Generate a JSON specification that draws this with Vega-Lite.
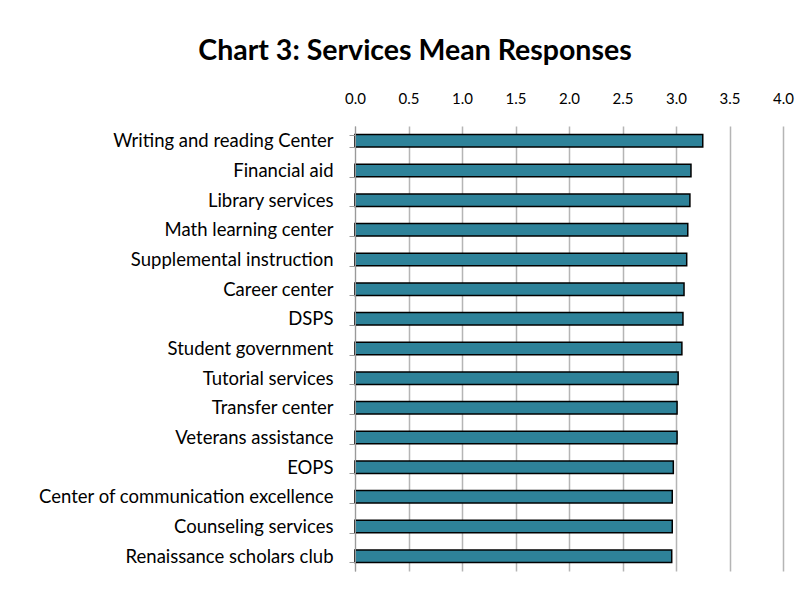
{
  "$schema": "https://vega.github.io/schema/vega-lite/v6.json",
  "width": 428,
  "height": 445,
  "autosize": {"type": "none"},
  "padding": {"left": 355, "top": 126, "right": 26, "bottom": 18},
  "background": "white",
  "title": {
    "text": "Chart 3: Services Mean Responses",
    "font": "Lato",
    "fontSize": 28.5,
    "fontWeight": "bold",
    "color": "black",
    "anchor": "middle",
    "frame": "group",
    "dx": -154,
    "offset": 26
  },
  "data": {
    "values": [
      {"service": "Writing and reading Center", "mean": 3.25},
      {"service": "Financial aid", "mean": 3.14},
      {"service": "Library services", "mean": 3.13},
      {"service": "Math learning center", "mean": 3.11},
      {"service": "Supplemental instruction", "mean": 3.10},
      {"service": "Career center", "mean": 3.075},
      {"service": "DSPS", "mean": 3.065},
      {"service": "Student government", "mean": 3.055},
      {"service": "Tutorial services", "mean": 3.02},
      {"service": "Transfer center", "mean": 3.01},
      {"service": "Veterans assistance", "mean": 3.01},
      {"service": "EOPS", "mean": 2.975},
      {"service": "Center of communication excellence", "mean": 2.965},
      {"service": "Counseling services", "mean": 2.965},
      {"service": "Renaissance scholars club", "mean": 2.96}
    ]
  },
  "mark": {"type": "bar", "color": "#2E8299", "stroke": "black", "strokeWidth": 1.5},
  "encoding": {
    "y": {
      "field": "service",
      "type": "nominal",
      "sort": null,
      "title": null,
      "scale": {"paddingInner": 0.58, "paddingOuter": 0.29},
      "axis": {
        "orient": "left",
        "labelFont": "Lato",
        "labelFontSize": 18.5,
        "labelColor": "black",
        "labelPadding": 16,
        "labelLimit": 400,
        "domainColor": "#9a9a9a",
        "tickColor": "#9a9a9a",
        "tickSize": 6,
        "tickBand": "extent",
        "grid": false,
        "zindex": 1
      }
    },
    "x": {
      "field": "mean",
      "type": "quantitative",
      "title": null,
      "scale": {"domain": [0, 4], "nice": false},
      "axis": {
        "orient": "top",
        "values": [0, 0.5, 1, 1.5, 2, 2.5, 3, 3.5, 4],
        "format": ".1f",
        "labelFont": "Lato",
        "labelFontSize": 15,
        "labelColor": "black",
        "labelPadding": 20,
        "labelFlush": false,
        "domain": false,
        "ticks": false,
        "grid": true,
        "gridColor": "#b5b5b5",
        "gridWidth": 1.5,
        "gridOpacity": 1,
        "zindex": 0
      }
    }
  },
  "config": {"view": {"stroke": null}}
}
